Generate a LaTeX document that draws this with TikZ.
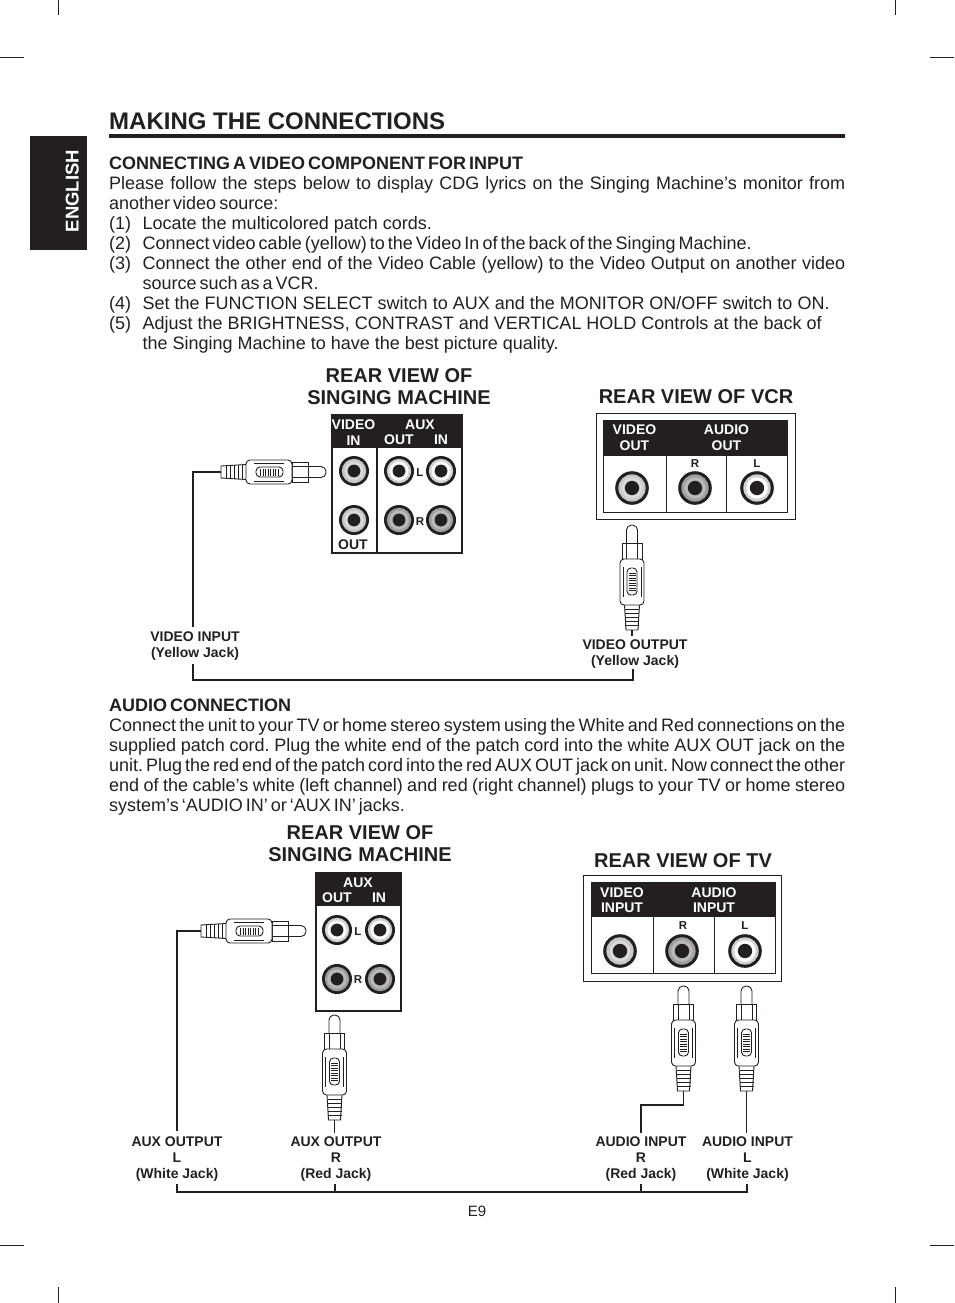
\documentclass[tikz,border=0pt]{standalone}
\usepackage{fontspec}
\setmainfont{Liberation Sans}
\usepackage{xcolor}
\usetikzlibrary{positioning,calc}
\definecolor{inkblack}{HTML}{231F20}
\newcommand{\tightwords}{\spaceskip=3pt plus 8pt minus 1.5pt\relax\xspaceskip=3pt plus 8pt minus 1.5pt\relax}
\tikzset{
  para/.style={anchor=base west,inner sep=0pt,text width=#1,align=justify,text=inkblack,font=\fontsize{18}{20}\selectfont},
  boldline/.style={anchor=base west,inner sep=0pt,text=inkblack,font=\fontsize{18}{20}\selectfont\bfseries\tightwords},
  viewtitle/.style={anchor=base,inner sep=0pt,text=inkblack,font=\fontsize{20}{22}\selectfont\bfseries},
  jacklabel/.style={anchor=base,inner sep=0pt,text=inkblack,align=center,font=\fontsize{14}{16}\selectfont\bfseries},
  headtext/.style={anchor=base,inner sep=0pt,text=white,font=\fontsize{14}{16}\selectfont\bfseries},
  marktext/.style={anchor=base,inner sep=0pt,text=inkblack,font=\fontsize{11.5}{12}\selectfont\bfseries},
  cord/.style={draw=inkblack,line width=1.9pt},
  cropmark/.style={draw=inkblack,line width=0.8pt},
  plugline/.style={draw=inkblack,fill=white,line width=0.9pt},
  pics/jack/.style 2 args={code={
    \fill[inkblack] (0,0) circle (15);
    \fill[#1] (0,0) circle (12.2);
    \fill[#2] (0,0) circle (9.6);
    \fill[inkblack] (0,0) circle (6.4);
  }},
  pics/rcaplug/.style={code={
    \draw[plugline,rounded corners=5pt] (-5.5,18) -- (-5.5,0) -- (5.5,0) -- (5.5,18);
    \draw[plugline] (-10,18) rectangle (10,34);
    \draw[plugline] (-5.5,18) -- (-5.5,34) (5.5,18) -- (5.5,34);
    \draw[plugline] (-7.5,80) -- (-6,105) -- (6,105) -- (7.5,80);
    \foreach \r in {84,88,92,96,100}{\draw[plugline] (-7,\r) -- (7,\r);}
    \draw[plugline,rounded corners=4pt] (-12,34) rectangle (12,80);
    \draw[plugline] (-9,42) -- (-9,72) (9,42) -- (9,72);
    \draw[plugline,rounded corners=4pt] (-5,43) rectangle (5,70);
    \foreach \r in {48,50.5,53,55.5,58,60.5,63,65.5}{\draw[draw=inkblack,line width=0.7pt] (-3.5,\r) -- (3.5,\r);}
    \coordinate (-end) at (0,105);
  }}
}
\begin{document}
\begin{tikzpicture}[x=1pt,y=-1pt]
\useasboundingbox (0,0) rectangle (954,1303);
% crop marks
\foreach \x in {58.5,895.5}{
  \draw[cropmark] (\x,0) -- (\x,15);
  \draw[cropmark] (\x,1287) -- (\x,1303);
}
\foreach \y in {57,1245.5}{
  \draw[cropmark] (0,\y) -- (24,\y);
  \draw[cropmark] (930,\y) -- (954,\y);
}
% side tab and title
\fill[inkblack] (30,136) rectangle (87,250);
\node[rotate=90,anchor=base,inner sep=0pt,text=white,font=\fontsize{18.5}{20}\selectfont\bfseries] (tab) at (78.5,191) {ENGLISH};
\node[anchor=base west,inner sep=0pt,text=inkblack,font=\fontsize{24}{26}\selectfont\bfseries] (title) at (109,129.5) {MAKING THE CONNECTIONS};
\fill[inkblack] (109,134.5) rectangle (845,138);
% first text block
\node[boldline] (headvideo) at (109,169) {CONNECTING A VIDEO COMPONENT FOR INPUT};
\node[para=736pt] (intro) at (109,189) {\tightwords Please follow the steps below to display CDG lyrics on the Singing Machine’s monitor from\linebreak another video source:};
\foreach \y/\n/\t in {229/1/{Locate the multicolored patch cords.},
  249/2/{\tightwords Connect video cable (yellow) to the Video In of the back of the Singing Machine.},
  269/3/{\tightwords Connect the other end of the Video Cable (yellow) to the Video Output on another video\linebreak source such as a VCR.},
  309/4/{Set the FUNCTION SELECT switch to AUX and the MONITOR ON/OFF switch to ON.},
  329/5/{Adjust the BRIGHTNESS, CONTRAST and VERTICAL HOLD Controls at the back of\\the Singing Machine to have the best picture quality.}}{
  \node[para=30pt] (num\n) at (109,\y) {(\n)};
  \node[para=702.5pt] (item\n) at (142.5,\y) {\t};
}
% singing machine, first panel
\node[viewtitle] (smtitleA) at (399,382) {REAR VIEW OF};
\node[viewtitle] (smtitleB) at (399,404) {SINGING MACHINE};
\draw[inkblack,line width=2pt] (332,415) rectangle (462,553);
\fill[inkblack] (331,414) rectangle (463,448);
\draw[inkblack,line width=2pt] (377,448) -- (377,553);
\foreach \x/\y/\t/\n in {353.5/429/VIDEO/a,353.5/445/IN/b,420/429/AUX/c,399/444/OUT/d,441/444/IN/e}{
  \node[headtext] (smhead\n) at (\x,\y) {\t};
}
\node[jacklabel] (smout) at (353,549) {OUT};
\pic at (354,471) {jack={gray!45}{gray!30}};
\pic at (354,520) {jack={gray!45}{gray!30}};
\pic at (399,471) {jack={gray!35}{white}};
\pic at (441,471) {jack={gray!35}{white}};
\pic at (399,520) {jack={gray!75}{gray!55}};
\pic at (441,520) {jack={gray!75}{gray!55}};
\node[marktext] (smL) at (420,476) {L};
\node[marktext] (smR) at (420,525) {R};
% vcr panel
\node[viewtitle] (vcrtitle) at (696,403) {REAR VIEW OF VCR};
\draw[inkblack,line width=1pt] (596.5,413.5) rectangle (795,519.5);
\draw[inkblack,line width=1pt] (603.5,420.5) rectangle (787,512);
\fill[inkblack] (603,420) rectangle (787.5,456);
\draw[inkblack,line width=0.8pt] (666,456) -- (666,512) (726,456) -- (726,512);
\foreach \x/\y/\t/\n in {634.5/434/VIDEO/a,634.5/450/OUT/b,726.5/434/AUDIO/c,726.5/450/OUT/d}{
  \node[headtext] (vcrhead\n) at (\x,\y) {\t};
}
\node[marktext] (vcrR) at (695,467) {R};
\node[marktext] (vcrL) at (757,467) {L};
\pic[scale=1.12] at (632,488) {jack={gray!45}{gray!30}};
\pic[scale=1.12] at (695,488) {jack={gray!75}{gray!55}};
\pic[scale=1.12] at (757,488) {jack={gray!35}{white}};
% first cable
\pic[rotate=-90] (plugA) at (326,472) {rcaplug};
\pic (plugB) at (632,525) {rcaplug};
\node[jacklabel] (lblvidin) at (195,657) {VIDEO INPUT\\(Yellow Jack)};
\node[jacklabel] (lblvidout) at (635,665) {VIDEO OUTPUT\\(Yellow Jack)};
\coordinate (endA) at (193,627);
\coordinate (endB) at (632,636);
\coordinate (brkA) at (193,664);
\coordinate (brkB) at (633,669);
\coordinate (brkC) at (193,680);
\draw[cord] (plugA-end) -| (endA);
\draw[cord] (plugB-end) -- (endB);
\draw[cord] (brkA) -- (brkC) -| (brkB);
% second text block
\node[boldline] (headaudio) at (109,711) {AUDIO CONNECTION};
\node[para=736pt] (audiotext) at (109,731) {\tightwords Connect the unit to your TV or home stereo system using the White and Red connections on the\linebreak supplied patch cord. Plug the white end of the patch cord into the white AUX OUT jack on the\linebreak unit. Plug the red end of the patch cord into the red AUX OUT jack on unit. Now connect the other\linebreak end of the cable’s white (left channel) and red (right channel) plugs to your TV or home stereo\linebreak system’s ‘AUDIO IN’ or ‘AUX IN’ jacks.};
% singing machine, second panel
\node[viewtitle] (smtitleC) at (360,839) {REAR VIEW OF};
\node[viewtitle] (smtitleD) at (360,861) {SINGING MACHINE};
\draw[inkblack,line width=2pt] (315.5,873) rectangle (400.5,1011);
\fill[inkblack] (314.5,872) rectangle (401.5,906);
\foreach \x/\y/\t/\n in {358/887/AUX/a,337/902/OUT/b,379/902/IN/c}{
  \node[headtext] (auxhead\n) at (\x,\y) {\t};
}
\pic at (337,930) {jack={gray!35}{white}};
\pic at (380,930) {jack={gray!35}{white}};
\pic at (337,979) {jack={gray!75}{gray!55}};
\pic at (380,979) {jack={gray!75}{gray!55}};
\node[marktext] (auxL) at (358,935) {L};
\node[marktext] (auxR) at (358,983) {R};
% tv panel
\node[viewtitle] (tvtitle) at (683,867) {REAR VIEW OF TV};
\draw[inkblack,line width=1pt] (583.5,875.5) rectangle (781,981);
\draw[inkblack,line width=1pt] (591,882.5) rectangle (775,973);
\fill[inkblack] (590.5,882) rectangle (775.5,917);
\draw[inkblack,line width=0.8pt] (653,917) -- (653,973) (714.5,917) -- (714.5,973);
\foreach \x/\y/\t/\n in {622/897/VIDEO/a,622/912/INPUT/b,714/897/AUDIO/c,714/912/INPUT/d}{
  \node[headtext] (tvhead\n) at (\x,\y) {\t};
}
\node[marktext] (tvR) at (683,929) {R};
\node[marktext] (tvL) at (745,929) {L};
\pic[scale=1.12] at (620,951) {jack={gray!45}{gray!30}};
\pic[scale=1.12] at (682,951) {jack={gray!75}{gray!55}};
\pic[scale=1.12] at (745,951) {jack={gray!35}{white}};
% second cables
\pic[rotate=-90] (plugC) at (306,931) {rcaplug};
\pic (plugD) at (334.5,1015) {rcaplug};
\pic (plugE) at (683.5,986) {rcaplug};
\pic (plugF) at (746.5,986) {rcaplug};
\node[jacklabel] (lblauxl) at (177,1178) {AUX OUTPUT\\L\\(White Jack)};
\node[jacklabel] (lblauxr) at (336,1178) {AUX OUTPUT\\R\\(Red Jack)};
\node[jacklabel] (lblaudr) at (641,1178) {AUDIO INPUT\\R\\(Red Jack)};
\node[jacklabel] (lblaudl) at (747.5,1178) {AUDIO INPUT\\L\\(White Jack)};
\coordinate (endC) at (177,1131);
\coordinate (endD) at (334.5,1133);
\coordinate (bendE) at (641,1105);
\coordinate (endE) at (641,1133);
\coordinate (endF) at (746.5,1133);
\draw[cord] (plugC-end) -| (endC);
\draw[cord] (plugD-end) -- (endD);
\draw[cord] (plugE-end) |- (bendE) -- (endE);
\draw[cord] (plugF-end) -- (endF);
\coordinate (brkD) at (177,1184);
\coordinate (brkE) at (747,1184);
\coordinate (brkF) at (177,1192);
\coordinate (brkG) at (335,1184);
\coordinate (brkH) at (641,1184);
\draw[cord] (brkD) -- (brkF) -| (brkE);
\draw[cord] (brkG) -- (brkG |- brkF);
\draw[cord] (brkH) -- (brkH |- brkF);
\node[anchor=base,inner sep=0pt,text=inkblack,font=\fontsize{15}{16}\selectfont] (pageno) at (477,1216) {E9};
\end{tikzpicture}
\end{document}
